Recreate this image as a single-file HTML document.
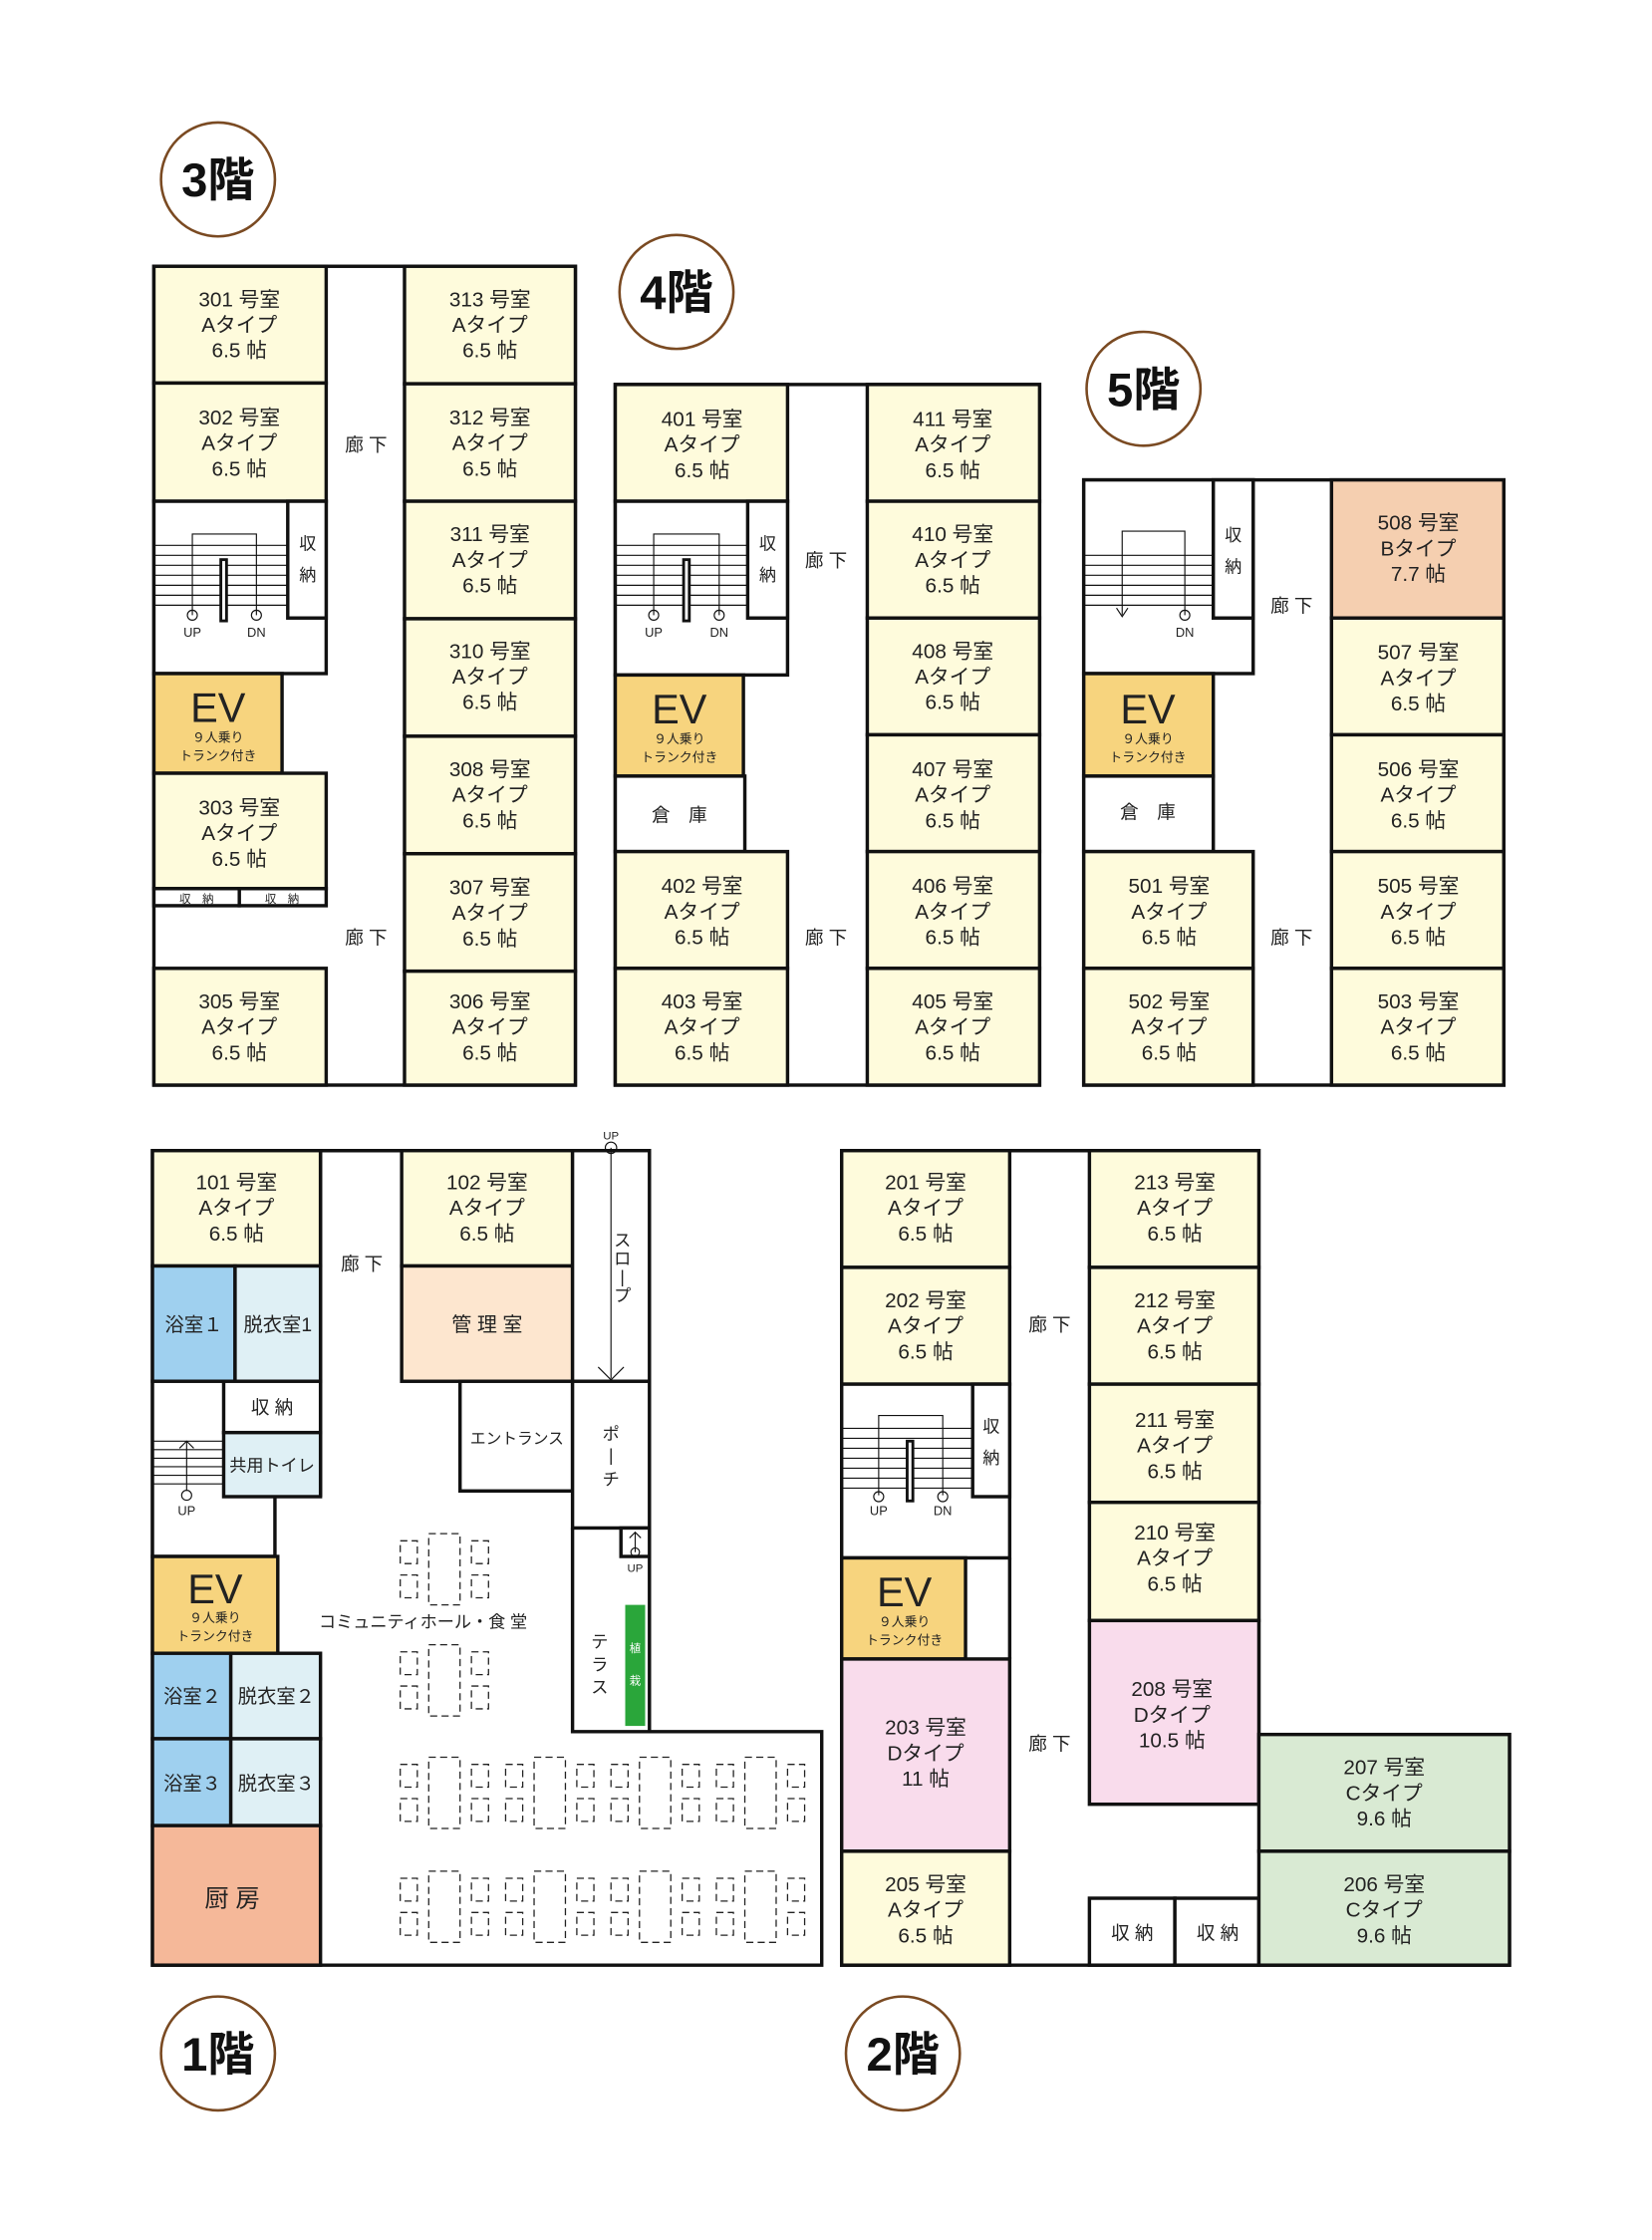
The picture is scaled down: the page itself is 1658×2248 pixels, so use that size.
<!DOCTYPE html>
<html><head><meta charset="utf-8"><style>
html,body{margin:0;padding:0;background:#fff;}
svg{display:block;}
text{font-family:"Liberation Sans","Noto Sans CJK JP",sans-serif;fill:#222;text-anchor:middle;}
.r{stroke:#111;stroke-width:2.4;}
.y{fill:#fefbdc;}
.w{fill:#fff;}
.ev{fill:#f7d47e;}
.rt{font-size:14.5px;}
.cor{font-size:13px;}
.sm{font-size:12px;}
.th{stroke:#111;stroke-width:0.8;fill:none;}
.bd{fill:#fff;stroke:#7a4a22;stroke-width:1.8;}
.bt{font-size:33px;font-weight:bold;fill:#111;}
</style></head><body>
<svg width="1658" height="2248" viewBox="0 0 1160 1573" xmlns="http://www.w3.org/2000/svg">
<defs>
<g id="tbl" fill="none" stroke="#222" stroke-width="0.9" stroke-dasharray="5 3">
<rect x="20" y="0" width="22" height="50"/>
<rect x="0" y="5" width="12" height="16"/><rect x="0" y="29" width="12" height="16"/>
<rect x="50" y="5" width="12" height="16"/><rect x="50" y="29" width="12" height="16"/>
</g>
</defs>

<!-- badges -->
<circle class="bd" cx="153" cy="126" r="40"/><text class="bt" x="153" y="138">3階</text>
<circle class="bd" cx="475" cy="205" r="40"/><text class="bt" x="475" y="217">4階</text>
<circle class="bd" cx="803" cy="273" r="40"/><text class="bt" x="803" y="285">5階</text>
<circle class="bd" cx="153" cy="1442" r="40"/><text class="bt" x="153" y="1454">1階</text>
<circle class="bd" cx="634" cy="1442" r="40"/><text class="bt" x="634" y="1454">2階</text>

<!-- ============ 3F ============ -->
<rect class="r w" x="108" y="187" width="296" height="575"/>
<rect class="r y" x="108" y="187" width="121" height="82"/>
<text class="rt" x="168" y="215">301 号室<tspan x="168" dy="18">Aタイプ</tspan><tspan x="168" dy="18">6.5 帖</tspan></text>
<rect class="r y" x="108" y="269" width="121" height="83"/>
<text class="rt" x="168" y="298">302 号室<tspan x="168" dy="18">Aタイプ</tspan><tspan x="168" dy="18">6.5 帖</tspan></text>
<rect class="r w" x="108" y="352" width="121" height="121"/>
<rect class="r w" x="202" y="352" width="27" height="82"/>
<text class="sm" x="216" y="386">収</text><text class="sm" x="216" y="408">納</text>
<g class="th"><path d="M108 383H202M108 390H202M108 397H202M108 404H202M108 411H202M108 418H202M108 425H202"/><path d="M135 432V375H180V432"/><circle cx="135" cy="432" r="3.5"/><circle cx="180" cy="432" r="3.5"/></g>
<rect x="154" y="392" width="6" height="45" fill="#111"/><rect x="156" y="394" width="2" height="41" fill="#fff"/>
<text x="135" y="447" style="font-size:9px">UP</text><text x="180" y="447" style="font-size:9px">DN</text>
<rect class="r ev" x="108" y="473" width="90" height="70"/>
<text x="153" y="507" style="font-size:29px">EV</text>
<text x="153" y="521" style="font-size:9px">９人乗り</text><text x="153" y="534" style="font-size:9px">トランク付き</text>
<rect class="r y" x="108" y="543" width="121" height="81"/>
<text class="rt" x="168" y="572">303 号室<tspan x="168" dy="18">Aタイプ</tspan><tspan x="168" dy="18">6.5 帖</tspan></text>
<rect class="r w" x="108" y="624" width="60" height="12"/><rect class="r w" x="168" y="624" width="61" height="12"/>
<text x="138" y="634" style="font-size:8px">収　納</text><text x="198" y="634" style="font-size:8px">収　納</text>
<rect class="r y" x="108" y="680" width="121" height="82"/>
<text class="rt" x="168" y="708">305 号室<tspan x="168" dy="18">Aタイプ</tspan><tspan x="168" dy="18">6.5 帖</tspan></text>
<text class="cor" x="257" y="317">廊 下</text><text class="cor" x="257" y="663">廊 下</text>
<rect class="r y" x="284" y="187" width="120" height="82.5"/>
<text class="rt" x="344" y="215">313 号室<tspan x="344" dy="18">Aタイプ</tspan><tspan x="344" dy="18">6.5 帖</tspan></text>
<rect class="r y" x="284" y="269.5" width="120" height="82.5"/>
<text class="rt" x="344" y="298">312 号室<tspan x="344" dy="18">Aタイプ</tspan><tspan x="344" dy="18">6.5 帖</tspan></text>
<rect class="r y" x="284" y="352" width="120" height="82.5"/>
<text class="rt" x="344" y="380">311 号室<tspan x="344" dy="18">Aタイプ</tspan><tspan x="344" dy="18">6.5 帖</tspan></text>
<rect class="r y" x="284" y="434.5" width="120" height="82.5"/>
<text class="rt" x="344" y="462">310 号室<tspan x="344" dy="18">Aタイプ</tspan><tspan x="344" dy="18">6.5 帖</tspan></text>
<rect class="r y" x="284" y="517" width="120" height="82.5"/>
<text class="rt" x="344" y="545">308 号室<tspan x="344" dy="18">Aタイプ</tspan><tspan x="344" dy="18">6.5 帖</tspan></text>
<rect class="r y" x="284" y="599.5" width="120" height="82.5"/>
<text class="rt" x="344" y="628">307 号室<tspan x="344" dy="18">Aタイプ</tspan><tspan x="344" dy="18">6.5 帖</tspan></text>
<rect class="r y" x="284" y="682" width="120" height="80"/>
<text class="rt" x="344" y="708">306 号室<tspan x="344" dy="18">Aタイプ</tspan><tspan x="344" dy="18">6.5 帖</tspan></text>

<!-- ============ 4F ============ -->
<rect class="r w" x="432" y="270" width="298" height="492"/>
<rect class="r y" x="432" y="270" width="121" height="82"/>
<text class="rt" x="493" y="299">401 号室<tspan x="493" dy="18">Aタイプ</tspan><tspan x="493" dy="18">6.5 帖</tspan></text>
<rect class="r w" x="432" y="352" width="121" height="122"/>
<rect class="r w" x="525" y="352" width="28" height="82"/>
<text class="sm" x="539" y="386">収</text><text class="sm" x="539" y="408">納</text>
<g class="th"><path d="M432 383H525M432 390H525M432 397H525M432 404H525M432 411H525M432 418H525M432 425H525"/><path d="M459 432V375H505V432"/><circle cx="459" cy="432" r="3.5"/><circle cx="505" cy="432" r="3.5"/></g>
<rect x="479" y="392" width="6" height="45" fill="#111"/><rect x="481" y="394" width="2" height="41" fill="#fff"/>
<text x="459" y="447" style="font-size:9px">UP</text><text x="505" y="447" style="font-size:9px">DN</text>
<rect class="r ev" x="432" y="474" width="90" height="71"/>
<text x="477" y="508" style="font-size:29px">EV</text>
<text x="477" y="522" style="font-size:9px">９人乗り</text><text x="477" y="535" style="font-size:9px">トランク付き</text>
<rect class="r w" x="432" y="545" width="91" height="53"/>
<text class="cor" x="477" y="577">倉　庫</text>
<rect class="r y" x="432" y="598" width="121" height="82"/>
<text class="rt" x="493" y="627">402 号室<tspan x="493" dy="18">Aタイプ</tspan><tspan x="493" dy="18">6.5 帖</tspan></text>
<rect class="r y" x="432" y="680" width="121" height="82"/>
<text class="rt" x="493" y="708">403 号室<tspan x="493" dy="18">Aタイプ</tspan><tspan x="493" dy="18">6.5 帖</tspan></text>
<text class="cor" x="580" y="398">廊 下</text><text class="cor" x="580" y="663">廊 下</text>
<rect class="r y" x="609" y="270" width="121" height="82"/>
<text class="rt" x="669" y="299">411 号室<tspan x="669" dy="18">Aタイプ</tspan><tspan x="669" dy="18">6.5 帖</tspan></text>
<rect class="r y" x="609" y="352" width="121" height="82"/>
<text class="rt" x="669" y="380">410 号室<tspan x="669" dy="18">Aタイプ</tspan><tspan x="669" dy="18">6.5 帖</tspan></text>
<rect class="r y" x="609" y="434" width="121" height="82"/>
<text class="rt" x="669" y="462">408 号室<tspan x="669" dy="18">Aタイプ</tspan><tspan x="669" dy="18">6.5 帖</tspan></text>
<rect class="r y" x="609" y="516" width="121" height="82"/>
<text class="rt" x="669" y="545">407 号室<tspan x="669" dy="18">Aタイプ</tspan><tspan x="669" dy="18">6.5 帖</tspan></text>
<rect class="r y" x="609" y="598" width="121" height="82"/>
<text class="rt" x="669" y="627">406 号室<tspan x="669" dy="18">Aタイプ</tspan><tspan x="669" dy="18">6.5 帖</tspan></text>
<rect class="r y" x="609" y="680" width="121" height="82"/>
<text class="rt" x="669" y="708">405 号室<tspan x="669" dy="18">Aタイプ</tspan><tspan x="669" dy="18">6.5 帖</tspan></text>

<!-- ============ 5F ============ -->
<rect class="r w" x="761" y="337" width="295" height="425"/>
<rect class="r w" x="761" y="337" width="119" height="136"/>
<rect class="r w" x="852" y="337" width="28" height="97"/>
<text class="sm" x="866" y="380">収</text><text class="sm" x="866" y="402">納</text>
<g class="th"><path d="M761 390H852M761 397H852M761 404H852M761 411H852M761 418H852M761 425H852"/><path d="M788 432V373H832V432"/><circle cx="832" cy="432" r="3.5"/><path d="M784 427L788 433L792 427"/></g>
<text x="832" y="447" style="font-size:9px">DN</text>
<rect class="r ev" x="761" y="473" width="91" height="72"/>
<text x="806" y="508" style="font-size:29px">EV</text>
<text x="806" y="522" style="font-size:9px">９人乗り</text><text x="806" y="535" style="font-size:9px">トランク付き</text>
<rect class="r w" x="761" y="545" width="91" height="53"/>
<text class="cor" x="806" y="575">倉　庫</text>
<rect class="r y" x="761" y="598" width="119" height="82"/>
<text class="rt" x="821" y="627">501 号室<tspan x="821" dy="18">Aタイプ</tspan><tspan x="821" dy="18">6.5 帖</tspan></text>
<rect class="r y" x="761" y="680" width="119" height="82"/>
<text class="rt" x="821" y="708">502 号室<tspan x="821" dy="18">Aタイプ</tspan><tspan x="821" dy="18">6.5 帖</tspan></text>
<text class="cor" x="907" y="430">廊 下</text><text class="cor" x="907" y="663">廊 下</text>
<rect class="r" fill="#f5cfb0" x="935" y="337" width="121" height="97"/>
<text class="rt" x="996" y="372">508 号室<tspan x="996" dy="18">Bタイプ</tspan><tspan x="996" dy="18">7.7 帖</tspan></text>
<rect class="r y" x="935" y="434" width="121" height="82"/>
<text class="rt" x="996" y="463">507 号室<tspan x="996" dy="18">Aタイプ</tspan><tspan x="996" dy="18">6.5 帖</tspan></text>
<rect class="r y" x="935" y="516" width="121" height="82"/>
<text class="rt" x="996" y="545">506 号室<tspan x="996" dy="18">Aタイプ</tspan><tspan x="996" dy="18">6.5 帖</tspan></text>
<rect class="r y" x="935" y="598" width="121" height="82"/>
<text class="rt" x="996" y="627">505 号室<tspan x="996" dy="18">Aタイプ</tspan><tspan x="996" dy="18">6.5 帖</tspan></text>
<rect class="r y" x="935" y="680" width="121" height="82"/>
<text class="rt" x="996" y="708">503 号室<tspan x="996" dy="18">Aタイプ</tspan><tspan x="996" dy="18">6.5 帖</tspan></text>

<!-- ============ 1F ============ -->
<path class="r w" d="M107 808H456V1216H577V1380H107Z"/>
<rect class="r y" x="107" y="808" width="118" height="81"/>
<text class="rt" x="166" y="835">101 号室<tspan x="166" dy="18">Aタイプ</tspan><tspan x="166" dy="18">6.5 帖</tspan></text>
<line class="r" x1="225" y1="808" x2="225" y2="1051"/>
<text class="cor" x="254" y="892">廊 下</text>
<rect class="r y" x="282" y="808" width="120" height="81"/>
<text class="rt" x="342" y="835">102 号室<tspan x="342" dy="18">Aタイプ</tspan><tspan x="342" dy="18">6.5 帖</tspan></text>
<rect class="r" fill="#fde6cf" x="282" y="889" width="120" height="81"/>
<text x="342" y="935" style="font-size:14px">管 理 室</text>
<rect class="r w" x="402" y="808" width="54" height="162"/>
<g class="th"><line x1="429" y1="806" x2="429" y2="968"/><circle cx="429" cy="806" r="4"/><path d="M420 960L429 969L438 960"/></g>
<text x="429" y="800" style="font-size:8px">UP</text>
<g style="font-size:12px"><text x="437" y="875">ス</text><text x="437" y="888">ロ</text><text x="437" y="901">|</text><text x="437" y="914">プ</text></g>
<rect class="r" fill="#9fd0ef" x="107" y="889" width="58" height="81"/>
<rect class="r" fill="#dff0f5" x="165" y="889" width="60" height="81"/>
<text x="136" y="935" style="font-size:13.5px">浴室１</text><text x="195" y="935" style="font-size:13.5px">脱衣室1</text>
<rect class="r w" x="107" y="970" width="86" height="123"/>
<rect class="r w" x="157" y="970" width="68" height="36"/>
<text class="cor" x="191" y="993">収 納</text>
<rect class="r" fill="#dff0f5" x="157" y="1006" width="68" height="45"/>
<text x="191" y="1033" style="font-size:12px">共用トイレ</text>
<g class="th"><path d="M107 1012H157M107 1018H157M107 1024H157M107 1030H157M107 1036H157M107 1042H157"/><line x1="131" y1="1047" x2="131" y2="1012"/><path d="M126 1017L131 1012L136 1017"/><circle cx="131" cy="1050" r="3.5"/></g>
<text x="131" y="1064" style="font-size:9px">UP</text>
<rect class="r ev" x="107" y="1093" width="88" height="68"/>
<text x="151" y="1126" style="font-size:29px">EV</text>
<text x="151" y="1139" style="font-size:9px">９人乗り</text><text x="151" y="1152" style="font-size:9px">トランク付き</text>
<rect class="r" fill="#9fd0ef" x="107" y="1161" width="55" height="60"/>
<rect class="r" fill="#dff0f5" x="162" y="1161" width="63" height="60"/>
<text x="135" y="1196" style="font-size:13.5px">浴室２</text><text x="194" y="1196" style="font-size:13.5px">脱衣室２</text>
<rect class="r" fill="#9fd0ef" x="107" y="1221" width="55" height="61"/>
<rect class="r" fill="#dff0f5" x="162" y="1221" width="63" height="61"/>
<text x="135" y="1257" style="font-size:13.5px">浴室３</text><text x="194" y="1257" style="font-size:13.5px">脱衣室３</text>
<rect class="r" fill="#f5b899" x="107" y="1282" width="118" height="98"/>
<text x="163" y="1339" style="font-size:17px">厨 房</text>
<rect class="r w" x="323" y="970" width="79" height="77"/>
<text x="363" y="1014" style="font-size:11px">エントランス</text>
<rect class="r w" x="402" y="970" width="54" height="103"/>
<g style="font-size:12px"><text x="429" y="1011">ポ</text><text x="429" y="1026">|</text><text x="429" y="1043">チ</text></g>
<path class="r" fill="none" d="M402 1073V1216H456"/>
<rect class="r w" x="436" y="1073" width="20" height="20"/>
<g class="th"><line x1="446" y1="1090" x2="446" y2="1076"/><path d="M442 1080L446 1076L450 1080"/><circle cx="446" cy="1090" r="3"/></g>
<text x="446" y="1104" style="font-size:8px">UP</text>
<g style="font-size:12px"><text x="421" y="1157">テ</text><text x="421" y="1173">ラ</text><text x="421" y="1189">ス</text></g>
<rect x="439" y="1127" width="14" height="85" fill="#2aa63a"/>
<text x="446" y="1160" style="font-size:8px;fill:#fff">植</text><text x="446" y="1183" style="font-size:8px;fill:#fff">栽</text>
<text x="297" y="1143" style="font-size:12px">コミュニティホール・食 堂</text>
<use href="#tbl" x="281" y="1077"/><use href="#tbl" x="281" y="1155"/>
<use href="#tbl" x="281" y="1234"/><use href="#tbl" x="355" y="1234"/><use href="#tbl" x="429" y="1234"/><use href="#tbl" x="503" y="1234"/>
<use href="#tbl" x="281" y="1314"/><use href="#tbl" x="355" y="1314"/><use href="#tbl" x="429" y="1314"/><use href="#tbl" x="503" y="1314"/>

<!-- ============ 2F ============ -->
<path class="r w" d="M591 808H884V1218H1060V1380H591Z"/>
<rect class="r y" x="591" y="808" width="118" height="82"/>
<text class="rt" x="650" y="835">201 号室<tspan x="650" dy="18">Aタイプ</tspan><tspan x="650" dy="18">6.5 帖</tspan></text>
<rect class="r y" x="591" y="890" width="118" height="82"/>
<text class="rt" x="650" y="918">202 号室<tspan x="650" dy="18">Aタイプ</tspan><tspan x="650" dy="18">6.5 帖</tspan></text>
<rect class="r w" x="591" y="972" width="118" height="122"/>
<rect class="r w" x="683" y="972" width="26" height="79"/>
<text class="sm" x="696" y="1006">収</text><text class="sm" x="696" y="1028">納</text>
<g class="th"><path d="M591 1003H683M591 1010H683M591 1017H683M591 1024H683M591 1031H683M591 1038H683M591 1045H683"/><path d="M617 1050V994H662V1050"/><circle cx="617" cy="1051" r="3.5"/><circle cx="662" cy="1051" r="3.5"/></g>
<rect x="636" y="1011" width="6" height="44" fill="#111"/><rect x="638" y="1013" width="2" height="40" fill="#fff"/>
<text x="617" y="1064" style="font-size:9px">UP</text><text x="662" y="1064" style="font-size:9px">DN</text>
<rect class="r ev" x="591" y="1094" width="87" height="71"/>
<text x="635" y="1128" style="font-size:29px">EV</text>
<text x="635" y="1142" style="font-size:9px">９人乗り</text><text x="635" y="1155" style="font-size:9px">トランク付き</text>
<line class="r" x1="709" y1="1094" x2="709" y2="1165"/>
<rect class="r" fill="#f9dcec" x="591" y="1165" width="118" height="135"/>
<text class="rt" x="650" y="1218">203 号室<tspan x="650" dy="18">Dタイプ</tspan><tspan x="650" dy="18">11 帖</tspan></text>
<rect class="r y" x="591" y="1300" width="118" height="80"/>
<text class="rt" x="650" y="1328">205 号室<tspan x="650" dy="18">Aタイプ</tspan><tspan x="650" dy="18">6.5 帖</tspan></text>
<text class="cor" x="737" y="935">廊 下</text><text class="cor" x="737" y="1229">廊 下</text>
<rect class="r y" x="765" y="808" width="119" height="82"/>
<text class="rt" x="825" y="835">213 号室<tspan x="825" dy="18">Aタイプ</tspan><tspan x="825" dy="18">6.5 帖</tspan></text>
<rect class="r y" x="765" y="890" width="119" height="82"/>
<text class="rt" x="825" y="918">212 号室<tspan x="825" dy="18">Aタイプ</tspan><tspan x="825" dy="18">6.5 帖</tspan></text>
<rect class="r y" x="765" y="972" width="119" height="83"/>
<text class="rt" x="825" y="1002">211 号室<tspan x="825" dy="18">Aタイプ</tspan><tspan x="825" dy="18">6.5 帖</tspan></text>
<rect class="r y" x="765" y="1055" width="119" height="83"/>
<text class="rt" x="825" y="1081">210 号室<tspan x="825" dy="18">Aタイプ</tspan><tspan x="825" dy="18">6.5 帖</tspan></text>
<rect class="r" fill="#f9dcec" x="765" y="1138" width="119" height="129"/>
<text class="rt" x="823" y="1191">208 号室<tspan x="823" dy="18">Dタイプ</tspan><tspan x="823" dy="18">10.5 帖</tspan></text>
<rect class="r w" x="765" y="1333" width="60" height="47"/><rect class="r w" x="825" y="1333" width="59" height="47"/>
<text class="cor" x="795" y="1362">収 納</text><text class="cor" x="855" y="1362">収 納</text>
<rect class="r" fill="#d9ead3" x="884" y="1218" width="176" height="82"/>
<text class="rt" x="972" y="1246">207 号室<tspan x="972" dy="18">Cタイプ</tspan><tspan x="972" dy="18">9.6 帖</tspan></text>
<rect class="r" fill="#d9ead3" x="884" y="1300" width="176" height="80"/>
<text class="rt" x="972" y="1328">206 号室<tspan x="972" dy="18">Cタイプ</tspan><tspan x="972" dy="18">9.6 帖</tspan></text>
</svg>
</body></html>
